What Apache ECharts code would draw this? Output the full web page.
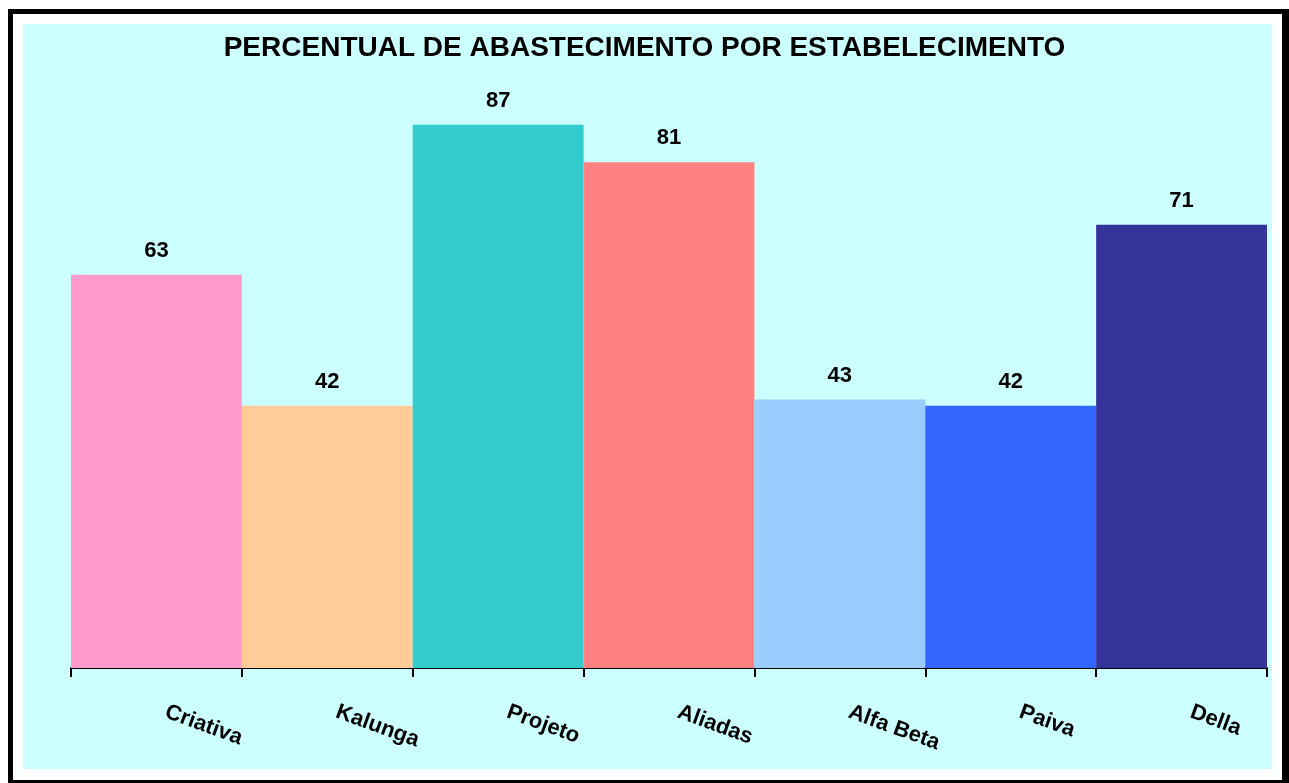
<!DOCTYPE html>
<html>
<head>
<meta charset="utf-8">
<script src="https://cdn.jsdelivr.net/npm/echarts@6/dist/echarts.min.js"></script>
<style>
  html, body { margin:0; padding:0; width:1289px; height:783px; overflow:hidden; background:#fff; }
  #frame { position:absolute; left:8px; top:9px; width:1300px; height:800px; background:#000; }
  #white { position:absolute; left:13px; top:14px; width:1269px; height:766px; background:#fff; }
  #cyan { position:absolute; left:23px; top:24px; width:1249px; height:745px; background:#CCFFFF; }
  #chart { position:absolute; left:0; top:0; width:1289px; height:783px; }
</style>
</head>
<body>
<div id="frame"></div>
<div id="white"></div>
<div id="cyan"></div>
<div id="chart"></div>
<script>
const categories = ['Criativa', 'Kalunga', 'Projeto', 'Aliadas', 'Alfa Beta', 'Paiva', 'Della'];
const values = [63, 42, 87, 81, 43, 42, 71];
const titleText = 'PERCENTUAL DE ABASTECIMENTO POR ESTABELECIMENTO';

const palette = ['#FF99CC', '#FFCC99', '#33CCCC', '#FF8080', '#99CCFF', '#3366FF', '#333399'];
const font = "'Liberation Sans', Arial, sans-serif";

const chart = echarts.init(document.getElementById('chart'), null, { renderer: 'canvas' });
chart.setOption({
  backgroundColor: 'transparent',
  animation: false,
  title: {
    text: titleText,
    left: 'center',
    top: 34,
    padding: 0,
    textStyle: { fontFamily: font, fontSize: 28, fontWeight: 'bold', color: '#000' }
  },
  grid: { left: 71, right: 22, top: 43.7, bottom: 115 },
  xAxis: {
    type: 'category',
    data: categories,
    boundaryGap: true,
    axisLine: { show: true, lineStyle: { color: '#000', width: 2 } },
    axisTick: { show: true, length: 9, lineStyle: { color: '#000', width: 2 } },
    axisLabel: {
      rotate: -20,
      margin: 40,
      interval: 0,
      padding: [0, 0, 0, 10],
      fontFamily: font,
      fontSize: 22,
      fontWeight: 'bold',
      color: '#000'
    }
  },
  yAxis: {
    type: 'value',
    min: 0,
    max: 100,
    show: false
  },
  series: [{
    type: 'bar',
    data: values,
    barCategoryGap: '0%',
    barWidth: '100%',
    itemStyle: { color: (p) => palette[p.dataIndex] },
    label: {
      show: true,
      position: 'top',
      distance: 13,
      fontFamily: font,
      fontSize: 22,
      fontWeight: 'bold',
      color: '#000'
    }
  }]
});
</script>
</body>
</html>
